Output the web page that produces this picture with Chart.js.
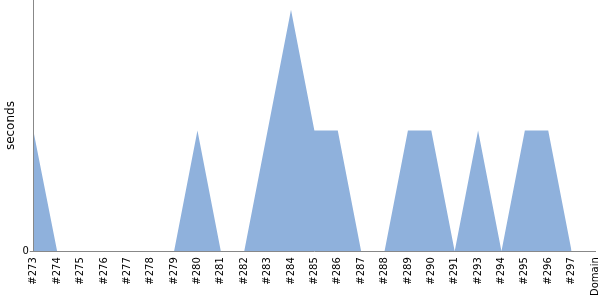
<!DOCTYPE html>
<html>
<head>
<meta charset="utf-8">
<script src="https://cdn.jsdelivr.net/npm/chart.js@4"></script>
<style>
  html, body { margin: 0; padding: 0; background: #fff; }
  #wrap { width: 600px; height: 300px; }
</style>
</head>
<body>
<div id="wrap"><canvas id="buildChart"></canvas></div>
<script>
// Build durations per build number
const builds = ['#273', '#274', '#275', '#276', '#277', '#278', '#279', '#280', '#281', '#282', '#283', '#284',
    '#285', '#286', '#287', '#288', '#289', '#290', '#291', '#293', '#294', '#295', '#296', '#297', 'Domain'];
const seconds = [0.98, 0, 0, 0, 0, 0, 0, 1, 0, 0, 1, 2, 1, 1, 0, 0, 1, 1, 0, 1, 0, 1, 1, 0, null];
const yTicks = [0];

document.addEventListener('DOMContentLoaded', () => {
    const ctx = document.getElementById('buildChart').getContext('2d');

    new Chart(ctx, {
        type: 'line',
        data: {
            labels: builds,
            datasets: [{
                label: 'seconds',
                data: seconds,
                fill: 'origin',
                backgroundColor: '#8fb1dc',
                borderWidth: 0,
                pointRadius: 0,
                tension: 0
            }]
        },
        options: {
            responsive: true,
            maintainAspectRatio: false,
            animation: false,
            layout: { padding: { top: 0, right: 5, bottom: 1, left: 1 } },
            plugins: {
                legend: { display: false },
                tooltip: { enabled: false }
            },
            scales: {
                x: {
                    offset: false,
                    grid: { display: false, tickLength: 3 },
                    border: { color: '#888' },
                    afterFit: (axis) => {
                        axis.paddingRight = 0;
                        axis.paddingLeft = 0;
                    },
                    ticks: {
                        autoSkip: false,
                        minRotation: 90,
                        maxRotation: 90,
                        color: '#000',
                        padding: 3,
                        font: { family: 'DejaVu Sans', size: 10 }
                    }
                },
                y: {
                    min: 0,
                    max: 2.08,
                    grid: { drawOnChartArea: false, drawTicks: true, tickLength: 4, color: '#888' },
                    border: { color: '#888' },
                    afterFit: (axis) => {
                        axis.paddingTop = 0;
                    },
                    title: {
                        display: true,
                        text: 'seconds',
                        color: '#000',
                        padding: 3,
                        font: { family: 'DejaVu Sans', size: 12 }
                    },
                    afterBuildTicks: (axis) => {
                        axis.ticks = yTicks.map(v => ({ value: v }));
                    },
                    ticks: {
                        color: '#000',
                        padding: 1,
                        font: { family: 'DejaVu Sans', size: 10 }
                    }
                }
            }
        }
    });
});
</script>
</body>
</html>
